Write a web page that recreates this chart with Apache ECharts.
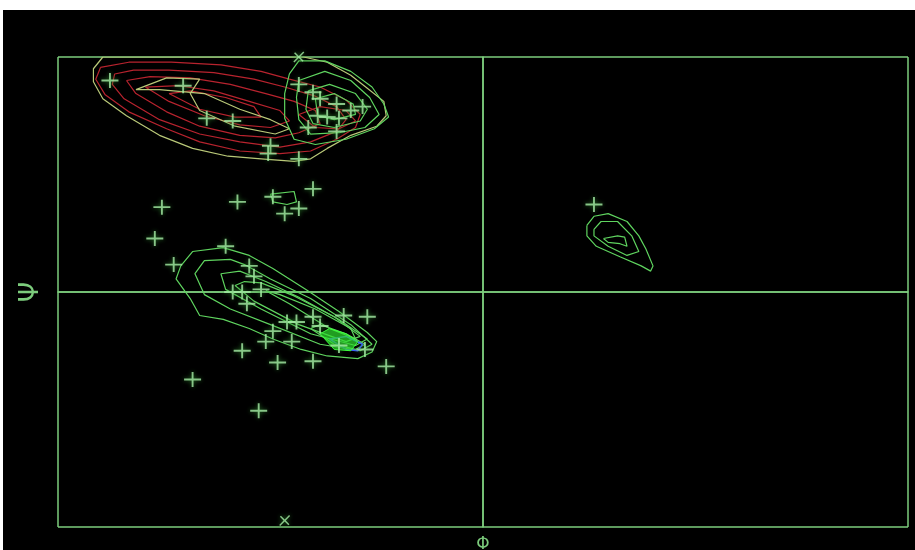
<!DOCTYPE html>
<html>
<head>
<meta charset="utf-8">
<script src="https://cdn.jsdelivr.net/npm/echarts@6/dist/echarts.min.js"></script>
<style>
  body { margin: 0; background: #fff; }
  #chart { position: absolute; left: 3px; top: 10px; width: 912px; height: 540px; background: #000; }
</style>
</head>
<body>
<div id="chart"></div>
<script>
// phi / psi range and tick positions (degrees)
var axisRange = [-180, 180];
var tickStep = 180;

// residues (phi, psi)
var residues = [
  [-158,162],[-127,158],[-117,133],[-106,131],[-90,112],[-91,106],[-78,102],
  [-78,159],[-72,153],[-70,135],[-66,134],[-62,144],[-61,133],[-74,126],
  [-62,123],[-56,139],[-51,142],[-69,148],
  [-136,65],[-104,69],[-72,79],[-89,73],[-84,60],[-78,64],[-139,41],[-131,21],
  [-109,35],[-99,20],[-97,12],[-106,0],[-102,0],[-94,2],[-100,-9],[-83,-23],
  [-79,-23],[-72,-19],[-59,-18],[-49,-19],[-89,-30],[-92,-38],[-81,-38],
  [-69,-26],[-102,-45],[-87,-54],[-72,-53],[-61,-41],[-41,-57],[-123,-67],
  [-95,-91],[-50,-44],
  [47,67]
];
// residues on the +/-180 edge, drawn as crosses
var edgeResidues = [[-78,180],[-84,-175]];

// contour lines of the density map, (phi, psi)
var contourOuter = [
  [[-161,180],[-165,171],[-165,161],[-161,148],[-151,135],[-137,120],[-123,110],[-108,104],[-94,102],[-80,100],[-73,102],[-66,110],[-56,120],[-45,127],[-41,135],[-42,146],[-49,156],[-56,166],[-66,176],[-76,180],[-99,180],[-120,180],[-141,180],[-161,180]],
  [[-147,155],[-134,164],[-120,163],[-124,152],[-120,139],[-105,127],[-88,121],[-82,125],[-90,132],[-103,140],[-118,152],[-137,155],[-147,155]]
];
var contourRed = [
  [[-162,172],[-164,163],[-160,151],[-150,138],[-134,125],[-120,115],[-103,108],[-86,106],[-73,108],[-62,117],[-54,126],[-52,136],[-58,147],[-69,157],[-82,163],[-94,169],[-111,174],[-132,176],[-150,176],[-162,172]],
  [[-156,167],[-157,159],[-152,148],[-137,132],[-120,121],[-103,115],[-86,111],[-73,115],[-62,123],[-58,132],[-62,142],[-71,150],[-84,157],[-97,163],[-114,168],[-133,170],[-148,170],[-156,167]],
  [[-151,162],[-147,152],[-134,138],[-120,127],[-103,120],[-88,118],[-78,122],[-69,129],[-71,139],[-80,146],[-92,152],[-107,159],[-124,164],[-141,165],[-151,162]],
  [[-143,157],[-133,146],[-118,135],[-103,128],[-90,126],[-82,131],[-86,139],[-99,146],[-114,154],[-129,158],[-143,157]],
  [[-133,152],[-120,140],[-105,134],[-94,134],[-97,142],[-109,149],[-124,154],[-133,152]],
  [[-78,136],[-69,142],[-58,139],[-54,131],[-61,125],[-71,126],[-78,136]]
];
var contourGreen = [
  [[-82,167],[-78,177],[-67,177],[-56,169],[-47,157],[-42,144],[-40,134],[-46,125],[-58,117],[-71,113],[-80,117],[-84,133],[-84,152],[-82,167]],
  [[-78,162],[-67,169],[-56,162],[-48,149],[-44,136],[-50,126],[-61,122],[-73,121],[-78,132],[-79,149],[-78,162]],
  [[-74,154],[-65,159],[-54,152],[-49,140],[-52,131],[-63,126],[-72,129],[-75,140],[-74,154]],
  [[-71,148],[-63,152],[-55,144],[-54,136],[-63,132],[-70,135],[-71,148]],
  [[-90,75],[-80,77],[-79,69],[-83,67],[-89,69],[-90,75]],
  [[-110,34],[-123,31],[-128,20],[-130,10],[-124,-5],[-120,-18],[-110,-21],[-99,-28],[-89,-36],[-77,-44],[-66,-49],[-53,-51],[-47,-46],[-45,-38],[-49,-31],[-61,-15],[-75,2],[-89,18],[-99,28],[-110,34]],
  [[-107,25],[-118,24],[-122,14],[-118,-2],[-107,-13],[-90,-25],[-69,-40],[-52,-45],[-47,-40],[-56,-25],[-73,-5],[-90,10],[-101,21],[-107,25]],
  [[-103,16],[-111,14],[-109,2],[-94,-13],[-73,-32],[-54,-41],[-49,-36],[-61,-21],[-78,-4],[-92,8],[-103,16]],
  [[-101,8],[-105,5],[-97,-7],[-78,-25],[-58,-38],[-52,-34],[-63,-19],[-80,-3],[-94,7],[-101,8]],
  [[-92,1],[-82,-9],[-65,-28],[-54,-36],[-56,-28],[-71,-13],[-86,-2],[-92,1]],
  [[-73,-28],[-63,-40],[-54,-44],[-50,-40],[-58,-32],[-69,-25],[-73,-28]],
  [[44,51],[47,58],[53,60],[61,54],[66,43],[69,33],[72,20],[71,16],[67,20],[58,27],[48,35],[44,43],[44,51]],
  [[47,48],[50,54],[57,54],[63,43],[66,31],[61,28],[53,35],[47,43],[47,48]],
  [[51,41],[57,43],[60,42],[61,35],[58,37],[53,38],[51,41]]
];
var coreGreen = [[-69,-32],[-63,-44],[-56,-45],[-53,-38],[-58,-32],[-65,-28],[-69,-32]];
var coreBlue = [[-65,-36],[-58,-44],[-53,-45],[-51,-40],[-58,-34],[-65,-36]];

var frameColor = '#7ccc7c';
var plusPath = 'path://M0,7h8v-7h2v7h8v2h-8v7h-2v-7h-8z';

function lineSeries(pts, color, width) {
  return {
    type: 'line', data: pts, symbol: 'none', silent: true,
    lineStyle: { color: color, width: width || 1.2 }, z: 2
  };
}

var series = [];
contourRed.forEach(function (c) { series.push(lineSeries(c, '#b8232e')); });
contourOuter.forEach(function (c) { series.push(lineSeries(c, '#b9c878')); });
contourGreen.forEach(function (c) { series.push(lineSeries(c, '#5fd45f')); });
series.push({
  type: 'line', data: coreGreen, symbol: 'none', silent: true,
  lineStyle: { color: '#3cff3c', width: 1 }, areaStyle: { color: '#2fe02f', origin: 'auto' }, z: 3
});
series.push(lineSeries(coreBlue, '#3a5cff', 1.5));
series.push({
  type: 'scatter', data: residues, symbol: plusPath, symbolSize: [17, 15],
  itemStyle: { color: '#a6eea6', shadowBlur: 4, shadowColor: '#2f8f2f' }, z: 5, silent: true
});
series.push({
  type: 'scatter', data: edgeResidues, symbol: plusPath, symbolSize: [14, 12], symbolRotate: 45,
  itemStyle: { color: '#a6eea6', shadowBlur: 4, shadowColor: '#2f8f2f' }, z: 5, silent: true
});

var chart = echarts.init(document.getElementById('chart'));
chart.setOption({
  backgroundColor: '#000',
  animation: false,
  grid: { left: 55, right: 7, top: 47, bottom: 23, outerBoundsMode: 'none' },
  xAxis: {
    type: 'value', min: axisRange[0], max: axisRange[1], interval: tickStep,
    name: 'Φ', nameLocation: 'middle', nameGap: 9,
    nameTextStyle: { color: '#7ccc7c', fontSize: 17, fontFamily: 'DejaVu Sans' },
    axisLine: { lineStyle: { color: frameColor, width: 1.5 } },
    axisTick: { show: false }, axisLabel: { show: false },
    splitLine: { show: true, lineStyle: { color: frameColor, width: 1.5 } }
  },
  yAxis: {
    type: 'value', min: axisRange[0], max: axisRange[1], interval: tickStep,
    name: 'Ψ', nameLocation: 'middle', nameGap: 14, nameRotate: 90,
    nameTextStyle: { color: '#7ccc7c', fontSize: 26, fontFamily: 'DejaVu Sans' },
    axisLine: { lineStyle: { color: frameColor, width: 1.5 } },
    axisTick: { show: false }, axisLabel: { show: false },
    splitLine: { show: true, lineStyle: { color: frameColor, width: 1.5 } }
  },
  series: series
});
</script>
</body>
</html>
